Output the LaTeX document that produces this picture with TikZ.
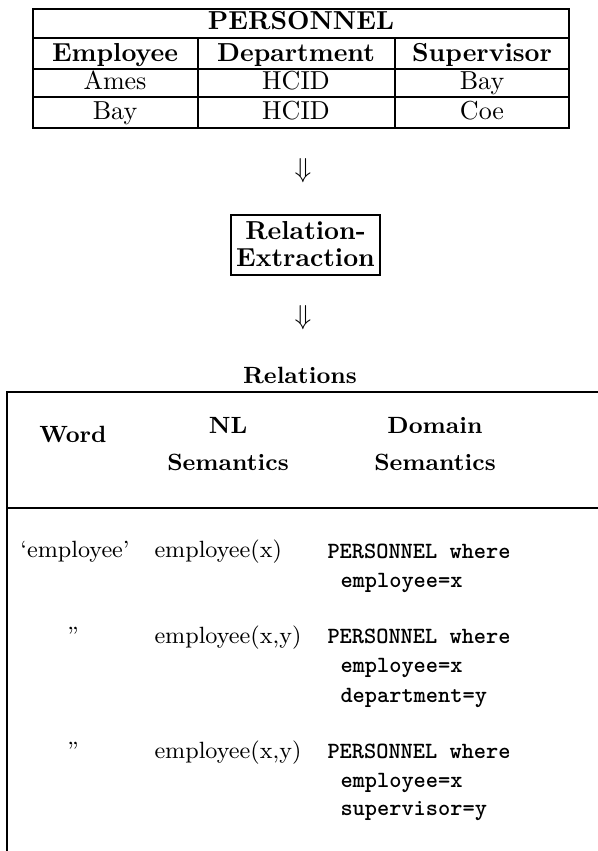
\documentclass[tikz,border=0pt]{standalone}
\usepackage{fontspec}
\tikzset{
  rule/.style={line width=0.9pt},
  tophead/.style={font=\fontsize{10.4}{12}\selectfont\bfseries, inner sep=0pt, anchor=base},
  topcell/.style={font=\fontsize{10.4}{12}\selectfont, inner sep=0pt, anchor=base},
  lowhead/.style={font=\fontsize{9.4}{12}\selectfont\bfseries, inner sep=0pt, anchor=base},
  lowtext/.style={font=\fontsize{9.4}{12}\selectfont, inner sep=0pt, anchor=base},
  code/.style={font=\fontsize{9.3}{12}\selectfont\ttfamily\bfseries, inner sep=0pt, anchor=base west},
  darrow/.style={font=\fontsize{11}{12}\selectfont, inner sep=0pt},
}
\begin{document}
\begin{tikzpicture}[x=0.4pt,y=-0.4pt]
\useasboundingbox (0,0) rectangle (598,851);
% PERSONNEL table
\draw[rule] (33,9) rectangle (569,128);
\draw[rule] (33,38) -- (569,38);
\draw[rule] (33,69) -- (569,69);
\draw[rule] (33,97) -- (569,97);
\draw[rule] (198,38) -- (198,128);
\draw[rule] (395,38) -- (395,128);
\node[tophead] (title) at (301,30) {PERSONNEL};
\node[tophead] (hemp) at (115,62) {Employee};
\node[tophead] (hdep) at (296,62) {Department};
\node[tophead] (hsup) at (482,62) {Supervisor};
\node[topcell] (r1a) at (115,90) {Ames};
\node[topcell] (r1b) at (296,90) {HCID};
\node[topcell] (r1c) at (482,90) {Bay};
\node[topcell] (r2a) at (115,120) {Bay};
\node[topcell] (r2b) at (296,120) {HCID};
\node[topcell] (r2c) at (482,120) {Coe};
% arrows
\node[darrow] (a1) at (303,171) {$\Downarrow$};
\draw[rule] (231,215) rectangle (380,275);
\node[tophead] (rx1) at (305.5,240) {Relation-};
\node[tophead] (rx2) at (305.5,267) {Extraction};
\node[darrow] (a2) at (303,318) {$\Downarrow$};
% Relations
\node[lowhead] (rel) at (300,383) {Relations};
\draw[rule] (598,392) -- (7,392) -- (7,851);
\draw[rule] (7,508) -- (598,508);
\node[lowhead] (hw) at (73,442) {Word};
\node[lowhead] (hnl) at (228,433) {NL};
\node[lowhead] (hnl2) at (228,470) {Semantics};
\node[lowhead] (hdo) at (435,433) {Domain};
\node[lowhead] (hdo2) at (435,470) {Semantics};
% rows
\node[lowtext] (w1) at (75,557) {`employee'};
\node[lowtext, anchor=base west] (n1) at (154,557) {employee(x)};
\node[code] (d1a) at (327,558) {PERSONNEL where};
\node[code] (d1b) at (340,587) {employee=x};
\node[lowtext] (w2) at (73,643) {\textquotedblright};
\node[lowtext, anchor=base west] (n2) at (154,643) {employee(x,y)};
\node[code] (d2a) at (327,643) {PERSONNEL where};
\node[code] (d2b) at (340,672) {employee=x};
\node[code] (d2c) at (340,702) {department=y};
\node[lowtext] (w3) at (73,758) {\textquotedblright};
\node[lowtext, anchor=base west] (n3) at (154,758) {employee(x,y)};
\node[code] (d3a) at (327,758) {PERSONNEL where};
\node[code] (d3b) at (340,787) {employee=x};
\node[code] (d3c) at (340,815) {supervisor=y};
\end{tikzpicture}
\end{document}
